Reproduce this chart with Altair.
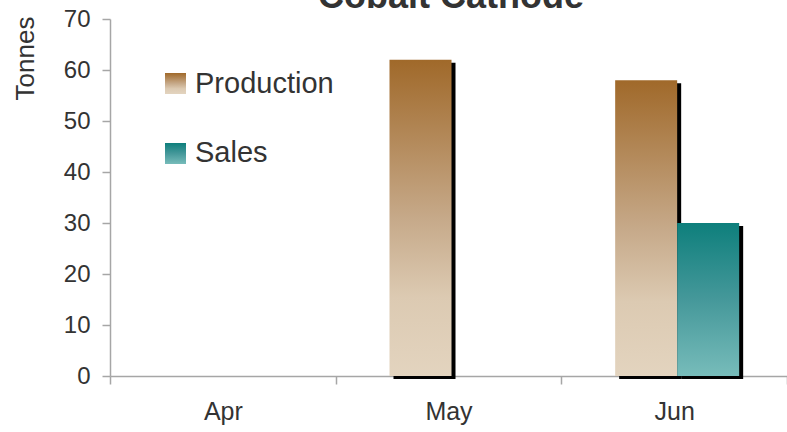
import altair as alt
import pandas as pd

# ---- data ----
months = ["Apr", "May", "Jun"]
series_names = ["Production", "Sales"]
production = [None, 62, 58]
sales = [None, None, 30]
title_text = "Cobalt Cathode"
y_ticks = [0, 10, 20, 30, 40, 50, 60, 70]

rows = []
for m, p, s in zip(months, production, sales):
    rows.append({"month": m, "series": "Production", "value": p})
    rows.append({"month": m, "series": "Sales", "value": s})
df = pd.DataFrame(rows)

FONT = "Liberation Sans"
TXT = "#333333"
AX = "#a6a6a6"

prod_grad = alt.Gradient(
    gradient="linear",
    stops=[
        alt.GradientStop(color="#A0692A", offset=0),
        alt.GradientStop(color="#C6A989", offset=0.5),
        alt.GradientStop(color="#DCCAB2", offset=0.75),
        alt.GradientStop(color="#E3D4BF", offset=1),
    ],
    x1=0, x2=0, y1=0, y2=1,
)
sales_grad = alt.Gradient(
    gradient="linear",
    stops=[
        alt.GradientStop(color="#0E7F7C", offset=0),
        alt.GradientStop(color="#45989A", offset=0.5),
        alt.GradientStop(color="#77BCBA", offset=1),
    ],
    x1=0, x2=0, y1=0, y2=1,
)

BAR_W = 62

x_enc = alt.X(
    "month:N",
    sort=months,
    scale=alt.Scale(domain=months, paddingInner=0, paddingOuter=0),
    axis=alt.Axis(
        title=None, labelAngle=0, tickBand="extent", tickSize=8,
        labelFontSize=25, labelPadding=15, labelColor=TXT, labelFont=FONT,
        domainColor=AX, tickColor=AX, domainWidth=1.5, tickWidth=1.5, grid=False,
    ),
)
y_enc = alt.Y(
    "value:Q",
    scale=alt.Scale(domain=[0, 70], nice=False),
    axis=alt.Axis(
        values=y_ticks, title="Tonnes", grid=False, tickSize=8,
        labelFontSize=24, labelPadding=12, labelColor=TXT, labelFont=FONT,
        domainColor=AX, tickColor=AX, domainWidth=1.5, tickWidth=1.5,
        titleFontSize=26, titleFont=FONT, titleColor=TXT, titleFontWeight="normal",
        titleAngle=270, titleX=-85, titleY=39, titleAlign="center", titleBaseline="middle",
    ),
)

base = alt.Chart(df).transform_filter("isValid(datum.value)")

def bars(name, color, offset):
    d = base.transform_filter(alt.datum.series == name)
    shadow = d.mark_bar(color="black", width=BAR_W, xOffset=offset + 4, yOffset=3, y2Offset=3).encode(
        x=x_enc, y=y_enc
    )
    bar = d.mark_bar(color=color, width=BAR_W, xOffset=offset).encode(x=x_enc, y=y_enc)
    return shadow, bar

ps, pb = bars("Production", prod_grad, -28)
ss, sb = bars("Sales", sales_grad, 34)

leg_df = pd.DataFrame({"series": series_names})
leg = alt.Chart(leg_df)
leg_prod_sq = leg.transform_filter(alt.datum.series == "Production").mark_rect(color=prod_grad).encode(
    x=alt.value(55), x2=alt.value(76), y=alt.value(54), y2=alt.value(75)
)
leg_sales_sq = leg.transform_filter(alt.datum.series == "Sales").mark_rect(color=sales_grad).encode(
    x=alt.value(55), x2=alt.value(76), y=alt.value(124), y2=alt.value(145)
)
leg_prod_txt = leg.transform_filter(alt.datum.series == "Production").mark_text(
    align="left", baseline="middle", fontSize=29, font=FONT, color=TXT
).encode(text="series:N", x=alt.value(85), y=alt.value(65))
leg_sales_txt = leg.transform_filter(alt.datum.series == "Sales").mark_text(
    align="left", baseline="middle", fontSize=29, font=FONT, color=TXT
).encode(text="series:N", x=alt.value(85), y=alt.value(134))

title = alt.Chart(pd.DataFrame({"t": [title_text]})).mark_text(
    align="center", baseline="alphabetic", fontSize=36, fontWeight="bold", font=FONT, color=TXT
).encode(text="t:N", x=alt.value(341), y=alt.value(-11))

chart = alt.layer(
    ps, pb, ss, sb, leg_prod_sq, leg_sales_sq, leg_prod_txt, leg_sales_txt, title
).properties(
    width=677, height=357,
    autosize=alt.AutoSizeParams(type="none"),
    padding={"left": 110, "top": 19, "right": 0, "bottom": 56},
).configure_view(stroke=None)

chart.save("out.html", embed_options={"renderer": "svg", "actions": False})
